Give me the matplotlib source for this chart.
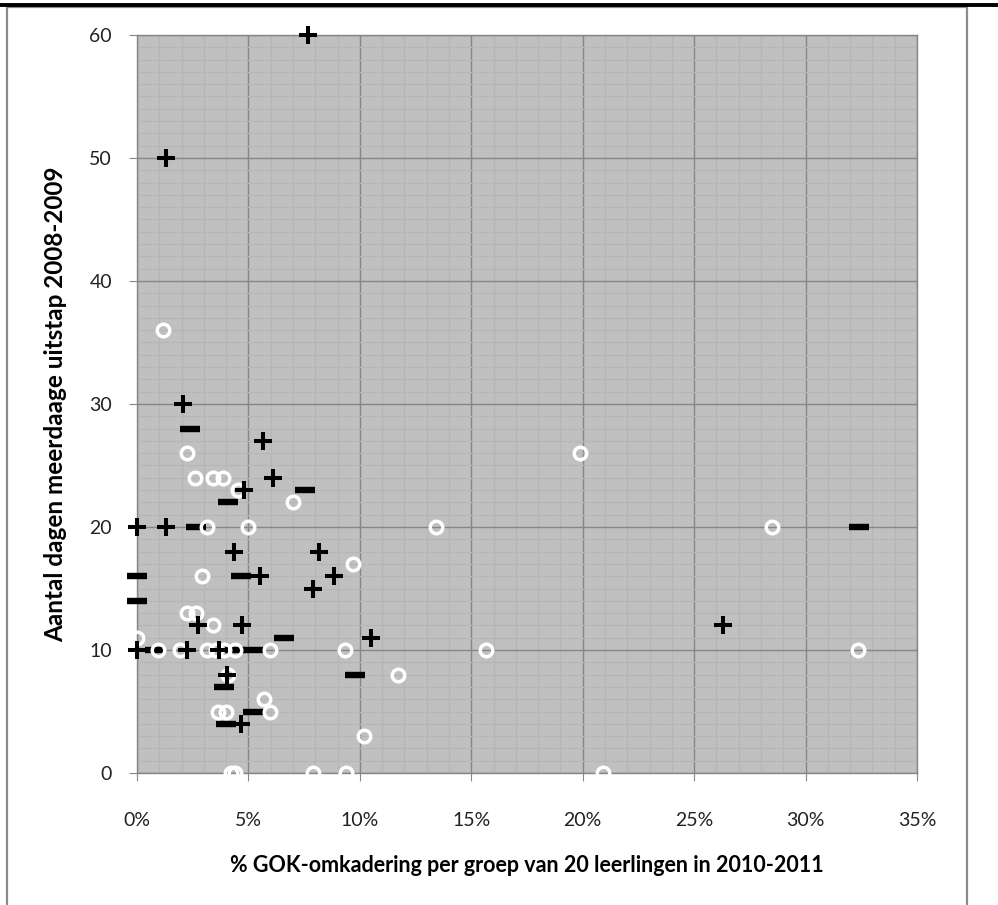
import matplotlib.pyplot as plt
from matplotlib.ticker import MultipleLocator, FuncFormatter
from matplotlib.patches import Rectangle
from matplotlib.lines import Line2D

plt.rcParams['font.family'] = ['Lato', 'DejaVu Sans']

# white circles (x in %, y in days)
circ_x = [1.17, 2.24, 19.9, 2.6, 3.4, 3.86, 4.53, 7.0, 3.14, 4.98, 13.4, 28.5,
          9.7, 2.9, 2.24, 2.65, 3.4, 0.0, 0.95, 1.93, 3.15, 3.55, 3.9, 4.4,
          5.97, 9.33, 15.65, 32.35, 4.1, 11.7, 5.7, 3.65, 4.0, 5.97, 10.2,
          4.2, 4.4, 7.9, 9.4, 20.9]
circ_y = [36, 26, 26, 24, 24, 24, 23, 22, 20, 20, 20, 20,
          17, 16, 13, 13, 12, 11, 10, 10, 10, 10, 10, 10,
          10, 10, 10, 10, 8, 8, 6, 5, 5, 5, 3,
          0, 0, 0, 0, 0]

# black plus markers
plus_x = [7.67, 1.3, 2.06, 5.65, 6.1, 4.8, 0.0, 1.3, 4.35, 8.17, 8.84, 5.5,
          7.9, 2.75, 4.7, 26.3, 10.5, 0.0, 2.24, 3.7, 4.04, 4.67]
plus_y = [60, 50, 30, 27, 24, 23, 20, 20, 18, 18, 16, 16,
          15, 12, 12, 12, 11, 10, 10, 10, 8, 4]

# black dash markers
dash_x = [2.38, 7.54, 4.08, 2.65, 32.4, 0.0, 4.67, 0.0, 6.6, 0.8, 4.4, 5.2,
          9.8, 3.9, 5.2, 4.0]
dash_y = [28, 23, 22, 20, 20, 16, 16, 14, 11, 10, 10, 10,
          8, 7, 5, 4]

fig = plt.figure(figsize=(9.98, 9.05), dpi=100)
ax = fig.add_axes([137/998, 1-773/905, 780/998, 738/905])
ax.set_facecolor('#c0c0c0')

ax.set_xlim(0, 35)
ax.set_ylim(0, 60)
ax.xaxis.set_major_locator(MultipleLocator(5))
ax.xaxis.set_minor_locator(MultipleLocator(1))
ax.yaxis.set_major_locator(MultipleLocator(10))
ax.yaxis.set_minor_locator(MultipleLocator(1))
ax.xaxis.set_major_formatter(FuncFormatter(lambda v, p: '%d%%' % v))

ax.grid(which='minor', color='#b6b6b6', lw=1.0)
ax.grid(which='major', color='#868686', lw=1.0)
ax.set_axisbelow(True)

for s in ax.spines.values():
    s.set_color('#868686')
    s.set_linewidth(1.0)

ax.tick_params(which='major', direction='out', length=6, color='#868686',
               labelsize=14, labelcolor='#222222')
ax.tick_params(axis='x', pad=22)
ax.tick_params(axis='y', pad=12)
ax.tick_params(which='minor', length=0)

ax.plot(dash_x, dash_y, ls='none', marker='_', ms=15, mew=4.6, color='black',
        clip_on=False, zorder=3)
ax.plot(circ_x, circ_y, ls='none', marker='o', ms=9.0, mew=2.5, mfc='none',
        mec='white', clip_on=False, zorder=4)
ax.plot(plus_x, plus_y, ls='none', marker='+', ms=13, mew=2.9, color='black',
        clip_on=False, zorder=5)

ax.set_xlabel('% GOK-omkadering per groep van 20 leerlingen in 2010-2011',
              fontsize=15.5, fontweight='bold', va='center')
ax.xaxis.set_label_coords(0.5, (773-865)/738)
ax.set_ylabel('Aantal dagen meerdaage uitstap 2008-2009',
              fontsize=17.5, fontweight='bold', va='center', ha='center')
ax.yaxis.set_label_coords((56-137)/780, 0.5)

# outer chart frame and line above it
fig.patches.append(Rectangle((7/998, -0.02), 960/998, 1.02-7/905,
                             transform=fig.transFigure, fill=False,
                             ec='#8c8c8c', lw=1.6))
fig.lines.append(Line2D([0, 1], [1-5/905, 1-5/905], transform=fig.transFigure,
                        color='black', lw=2.8))

fig.savefig('out.png', dpi=100)
